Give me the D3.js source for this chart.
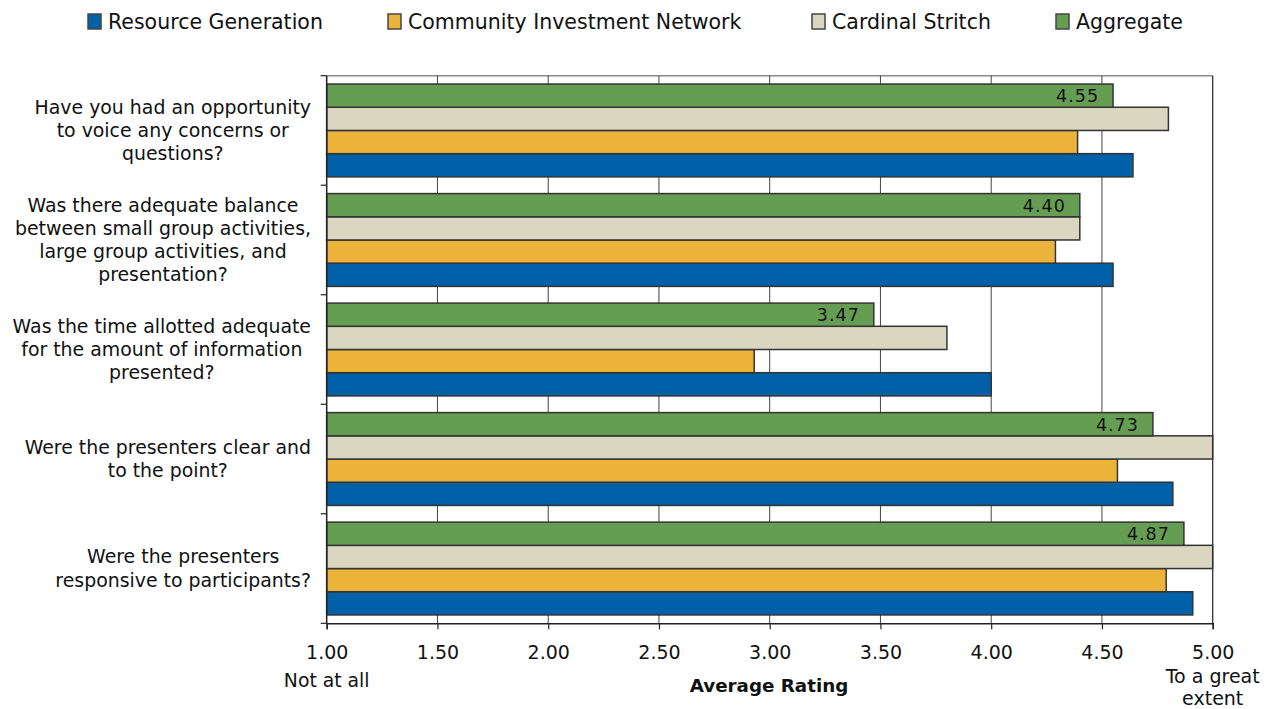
<!DOCTYPE html>
<html>
<head>
<meta charset="utf-8">
<script src="https://cdn.jsdelivr.net/npm/d3@7/dist/d3.min.js"></script>
<style>
  html, body { margin: 0; padding: 0; background: #fff; }
  svg { display: block; }
</style>
</head>
<body>
<script>
const categories = [
  ["Have you had an opportunity", "to voice any concerns or", "questions?"],
  ["Was there adequate balance", "between small group activities,", "large group activities, and", "presentation?"],
  ["Was the time allotted adequate", "for the amount of information", "presented?"],
  ["Were the presenters clear and", "to the point?"],
  ["Were the presenters", "responsive to participants?"]
];
const seriesNames = ["Resource Generation", "Community Investment Network", "Cardinal Stritch", "Aggregate"];
const resourceGeneration = [4.64, 4.55, 4.00, 4.82, 4.91];
const communityInvestment = [4.39, 4.29, 2.93, 4.57, 4.79];
const cardinalStritch = [4.80, 4.40, 3.80, 5.00, 5.00];
const aggregate = [4.55, 4.40, 3.47, 4.73, 4.87];
const xTicks = [1.00, 1.50, 2.00, 2.50, 3.00, 3.50, 4.00, 4.50, 5.00];
const colors = ["#0060A8", "#EBB33A", "#D9D7C0", "#659E53"];

(function () {
const W = 1272, H = 709;
const pL = 326.7, pR = 1212.7, pT = 75.7, pB = 623.3;
const font = "'DejaVu Sans', Verdana, sans-serif";

const svg = d3.select("body").append("svg").attr("width", W).attr("height", H);

const x = d3.scaleLinear().domain([1, 5]).range([pL, pR]);
const catIdx = d3.range(categories.length);
const y = d3.scaleBand().domain(catIdx).range([pT, pB]).paddingInner(0).paddingOuter(0);
const seriesOrder = [3, 2, 1, 0];
const inner = d3.scaleBand().domain(seriesOrder).range([0, y.bandwidth()]).paddingOuter(0.36).paddingInner(0);

const allSeries = [resourceGeneration, communityInvestment, cardinalStritch, aggregate];

svg.append("line").attr("x1", pL).attr("x2", pR).attr("y1", pT).attr("y2", pT)
  .attr("stroke", "#8a8a8a").attr("stroke-width", 1.5);

svg.append("g").selectAll("line").data(xTicks.slice(1, -1)).join("line")
  .attr("x1", d => x(d)).attr("x2", d => x(d)).attr("y1", pT).attr("y2", pB)
  .attr("stroke", "#444").attr("stroke-width", 1);

svg.append("line").attr("x1", pR).attr("x2", pR).attr("y1", pT).attr("y2", pB)
  .attr("stroke", "#222").attr("stroke-width", 1.2);

allSeries.forEach((vals, s) => {
  svg.append("g").selectAll("rect").data(vals).join("rect")
    .attr("x", x(1))
    .attr("y", (d, i) => y(i) + inner(s))
    .attr("width", d => x(d) - x(1))
    .attr("height", inner.bandwidth())
    .attr("fill", colors[s])
    .attr("stroke", "#333")
    .attr("stroke-width", 1.5);
});

svg.append("g").selectAll("text").data(aggregate).join("text")
  .attr("x", d => x(d) - 14)
  .attr("y", (d, i) => y(i) + inner(3) + inner.bandwidth() / 2 + 6.5)
  .attr("text-anchor", "end")
  .attr("font-family", font).attr("font-size", 17.5).attr("letter-spacing", 1)
  .attr("fill", "#111")
  .text(d => d.toFixed(2));

const yAxis = svg.append("g");
yAxis.append("line").attr("x1", pL).attr("x2", pL).attr("y1", pT).attr("y2", pB)
  .attr("stroke", "#222").attr("stroke-width", 1.5);
const boundaries = catIdx.map(i => y(i)).concat([pB]);
yAxis.selectAll("line.tk").data(boundaries).join("line").attr("class", "tk")
  .attr("x1", pL - 6).attr("x2", pL).attr("y1", d => d).attr("y2", d => d)
  .attr("stroke", "#222").attr("stroke-width", 1.2);

// category labels: block right-aligned to axis, lines centered within block
const lh = 23.2;
const labelRight = 311;
categories.forEach((lines, i) => {
  const cy = y(i) + y.bandwidth() / 2;
  const t = svg.append("text").attr("text-anchor", "middle")
    .attr("font-family", font).attr("font-size", 18.9).attr("fill", "#111");
  const spans = lines.map((ln, j) => t.append("tspan")
      .attr("y", cy + (j - (lines.length - 1) / 2) * lh + 6.5)
      .text(ln));
  const maxW = d3.max(spans, s => s.node().getComputedTextLength());
  spans.forEach(s => s.attr("x", labelRight - maxW / 2));
});

const xAxis = d3.axisBottom(x).tickValues(xTicks).tickFormat(d3.format(".2f")).tickSize(6).tickPadding(16);
const gx = svg.append("g").attr("transform", `translate(0,${pB})`).call(xAxis);
gx.select(".domain").attr("stroke", "#222").attr("stroke-width", 1.5);
gx.selectAll(".tick line").attr("stroke", "#222").attr("stroke-width", 1.2);
gx.selectAll(".tick text").attr("font-family", font).attr("font-size", 19).attr("fill", "#111");

svg.append("text").attr("x", x(1)).attr("y", 687).attr("text-anchor", "middle")
  .attr("font-family", font).attr("font-size", 18.8).attr("fill", "#111").text("Not at all");
const tg = svg.append("text").attr("text-anchor", "middle")
  .attr("font-family", font).attr("font-size", 19).attr("fill", "#111");
tg.append("tspan").attr("x", x(5)).attr("y", 683).text("To a great");
tg.append("tspan").attr("x", x(5)).attr("y", 705).text("extent");
svg.append("text").attr("x", 769).attr("y", 692).attr("text-anchor", "middle")
  .attr("font-family", font).attr("font-size", 18.3).attr("font-weight", "bold").attr("fill", "#111")
  .text("Average Rating");

// legend
const legendX = [88, 388, 812, 1056];
const lg = svg.append("g");
seriesNames.forEach((name, s) => {
  const g = lg.append("g").attr("transform", `translate(${legendX[s]},0)`);
  g.append("rect").attr("x", 0).attr("y", 14).attr("width", 13).attr("height", 15)
    .attr("fill", colors[s]).attr("stroke", "#444").attr("stroke-width", 1.5);
  g.append("text").attr("x", 20).attr("y", 29).attr("font-family", font)
    .attr("font-size", 20.5).attr("fill", "#111").text(name);
});
})();
</script>
</body>
</html>
